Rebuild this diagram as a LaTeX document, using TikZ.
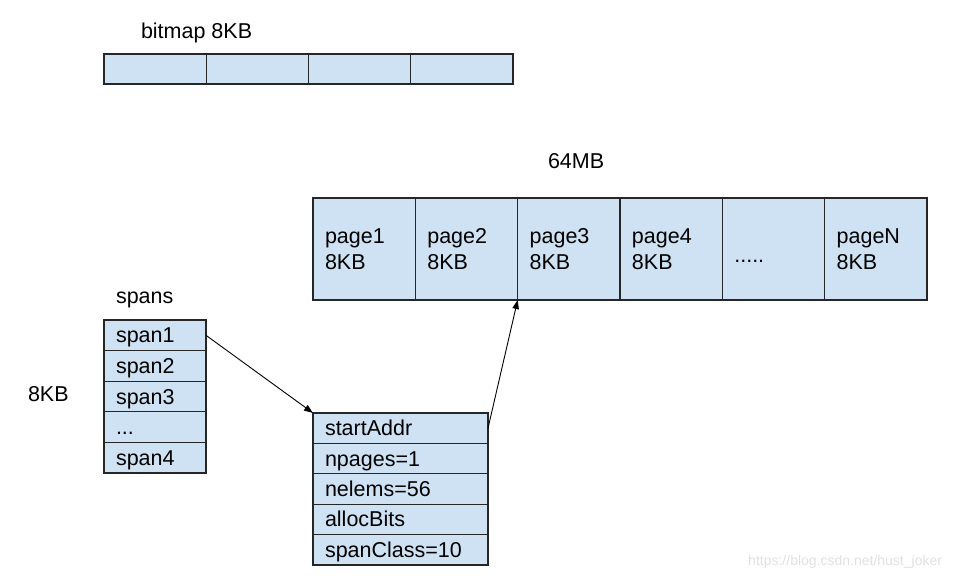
\documentclass[tikz,border=0pt]{standalone}
\usepackage{fontspec}
\setmainfont{Liberation Sans}
\usetikzlibrary{arrows.meta}
\definecolor{cellfill}{HTML}{CFE2F3}
\definecolor{linec}{HTML}{262626}
\begin{document}
\begin{tikzpicture}[x=1pt,y=-1pt,
  every node/.style={font=\fontsize{21.5}{26.5}\selectfont, inner sep=0pt, outer sep=0pt},
  cell/.style={draw=linec, fill=cellfill, line width=1.3pt, anchor=north west},
  bitcell/.style={cell, minimum width=102.25pt, minimum height=30pt},
  pagecell/.style={cell, minimum width=102.33pt, minimum height=102pt, text width=78.33pt, inner xsep=12pt, align=left},
  spancell/.style={cell, minimum width=102pt, minimum height=30.6pt, text width=78pt, inner xsep=12pt, align=left, text height=15pt, text depth=0pt},
  fieldcell/.style={cell, minimum width=175pt, minimum height=30.4pt, text width=151pt, inner xsep=12pt, align=left, text height=15pt, text depth=0pt},
  lbl/.style={anchor=base west, text=black},
  arr/.style={-{Triangle[length=9pt,width=6.5pt]}, line width=0.9pt, black}
]
\useasboundingbox (0,0) rectangle (953,579);

% bitmap
\node[lbl] (bmlabel) at (141,38) {bitmap 8KB};
\node[bitcell] (b1) at (104,54) {};
\node[bitcell] (b2) at (b1.north east) {};
\node[bitcell] (b3) at (b2.north east) {};
\node[bitcell] (b4) at (b3.north east) {};

% pages
\node[lbl] (mb) at (548,168) {64MB};
\node[pagecell] (p1) at (313,198) {page1\\8KB};
\node[pagecell] (p2) at (p1.north east) {page2\\8KB};
\node[pagecell] (p3) at (p2.north east) {page3\\8KB};
\node[pagecell] (p4) at (p3.north east) {page4\\8KB};
\node[pagecell, text height=26pt, text depth=0pt] (p5) at (p4.north east) {.....};
\node[pagecell] (p6) at (p5.north east) {pageN\\8KB};

% spans
\node[lbl] (spanslabel) at (116,303) {spans};
\node[lbl] (kb) at (28,401.5) {8KB};
\node[spancell] (s1) at (104,320) {span1};
\node[spancell] (s2) at (s1.south west) {span2};
\node[spancell] (s3) at (s2.south west) {span3};
\node[spancell] (s4) at (s3.south west) {...};
\node[spancell] (s5) at (s4.south west) {span4};

% span struct
\node[fieldcell] (f1) at (313,413) {startAddr};
\node[fieldcell] (f2) at (f1.south west) {npages=1};
\node[fieldcell] (f3) at (f2.south west) {nelems=56};
\node[fieldcell] (f4) at (f3.south west) {allocBits};
\node[fieldcell] (f5) at (f4.south west) {spanClass=10};

% arrows
\draw[arr] (s1.east) -- (f1.north west);
\draw[arr] (f1.east) -- (p3.south west);

% watermark
\node[anchor=east, font=\fontsize{14}{16}\selectfont, text=black!12] (wm) at (942,562) {https://blog.csdn.net/hust\_joker};
\end{tikzpicture}
\end{document}
